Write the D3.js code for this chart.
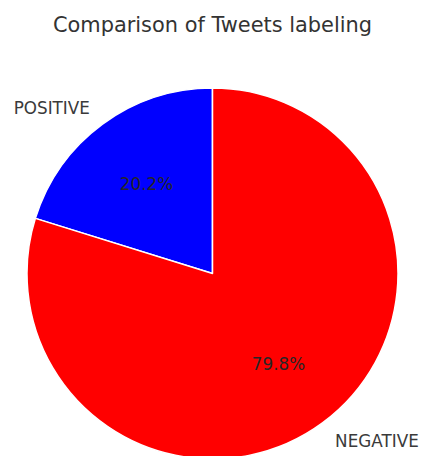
<!DOCTYPE html>
<html><head><meta charset="utf-8">
<script src="https://cdn.jsdelivr.net/npm/d3@7"></script>
<style>body{margin:0;background:#fff}svg{display:block}</style>
</head><body>
<script>
const labels = ["POSITIVE", "NEGATIVE"];
const values = [20.2, 79.8];
const colors = ["#0000ff", "#ff0000"];

const W = 421, H = 456;
const cx = 212.5, cy = 273.5, r = 185.5;
const svg = d3.select("body").append("svg").attr("width", W).attr("height", H);

svg.append("text").attr("x", 212.5).attr("y", 31.5).attr("text-anchor", "middle")
  .attr("font-family", "DejaVu Sans").attr("font-size", 20.9).attr("fill", "#333")
  .text("Comparison of Tweets labeling");

// matplotlib: startangle 90, counterclockwise. d3 angles: 0 at top, clockwise.
const pie = d3.pie().sort(null).value(d => d)
  .startAngle(0).endAngle(-2 * Math.PI);
const arcs = pie(values);
const arc = d3.arc().innerRadius(0).outerRadius(r);
const g = svg.append("g").attr("transform", `translate(${cx},${cy})`);
g.selectAll("path").data(arcs).join("path")
  .attr("d", arc).attr("fill", (d, i) => colors[i])
  .attr("stroke", "#fff").attr("stroke-width", 1.5).attr("stroke-linejoin", "round");

function pos(d, f) {
  const a = (d.startAngle + d.endAngle) / 2;
  return [f * r * Math.sin(a), -f * r * Math.cos(a)];
}
g.selectAll("text.lab").data(arcs).join("text").attr("class", "lab")
  .each(function (d, i) {
    const [x, y] = pos(d, 1.115);
    d3.select(this).attr("x", x).attr("y", y).attr("dy", "0.43em")
      .attr("text-anchor", x < 0 ? "end" : "start");
  })
  .attr("font-family", "DejaVu Sans").attr("font-size", 16.8).attr("fill", "#3a3a3a")
  .text((d, i) => labels[i]);
g.selectAll("text.pct").data(arcs).join("text").attr("class", "pct")
  .each(function (d) {
    const [x, y] = pos(d, 0.6);
    d3.select(this).attr("x", x).attr("y", y).attr("dy", "0.38em");
  })
  .attr("text-anchor", "middle")
  .attr("font-family", "DejaVu Sans").attr("font-size", 16.8).attr("fill", "#262626")
  .text(d => d.data.toFixed(1) + "%");
</script>
</body></html>
